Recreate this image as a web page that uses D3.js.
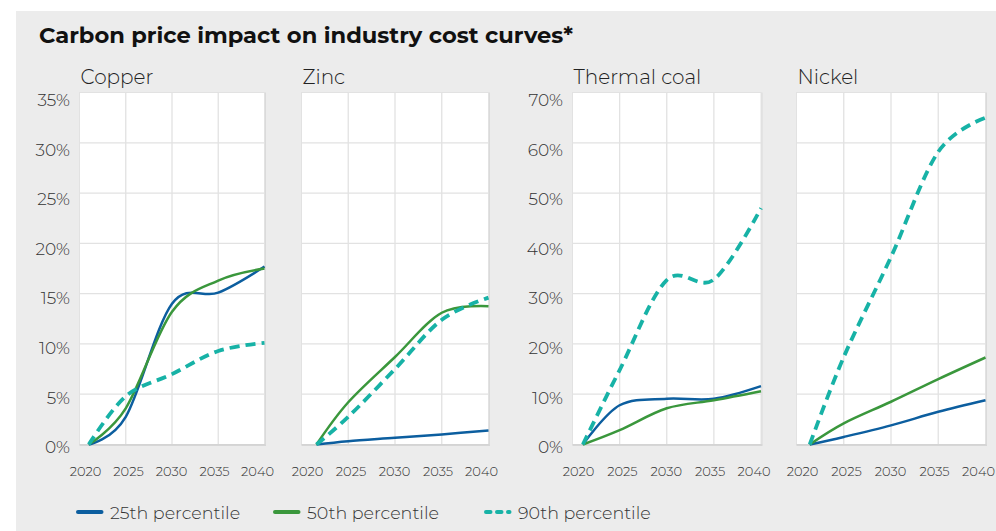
<!DOCTYPE html>
<html>
<head>
<meta charset="utf-8">
<script src="https://cdn.jsdelivr.net/npm/d3@7"></script>
<style>
  html, body { margin: 0; padding: 0; background: #fff; }
  svg { display: block; }
  text { font-family: Montserrat, "DejaVu Sans", sans-serif; }
</style>
</head>
<body>
<div id="chart"></div>
<script>
let width = 996
let height = 531

// data (% cost increase)
let panels = ["Copper", "Zinc", "Thermal coal", "Nickel"]
let start_years = [2021, 2021.6, 2021.1, 2021.4]
let point_years = [2025, 2030, 2035, 2040]
let y_max = [35, 35, 70, 70]
let y_step = [5, 5, 10, 10]
let show_y_labels = [true, false, true, false]
let tick_years = [2020, 2025, 2030, 2035, 2040]

let p25 = [
    [0, 2.75, 14.0, 15.1, 17.7],
    [0, 0.33, 0.66, 1.0, 1.4],
    [0, 7.8, 9.1, 9.1, 11.6],
    [0, 1.5, 3.8, 6.5, 8.8]
]
let p50 = [
    [0, 3.6, 13.2, 16.3, 17.5],
    [0, 4.2, 8.7, 13.1, 13.75],
    [0, 2.85, 7.2, 8.8, 10.6],
    [0, 4.2, 8.5, 13.0, 17.3]
]
let p90 = [
    [0, 4.8, 7.0, 9.3, 10.1],
    [0, 2.75, 7.5, 12.4, 14.6],
    [0, 14.8, 32.7, 32.8, 47.0],
    [0, 17.4, 37.3, 58.2, 65.0]
]

let series = [
    {name: "25th percentile", values: p25, color: "#0c5e9f", dash: null},
    {name: "50th percentile", values: p50, color: "#3a973c", dash: null},
    {name: "90th percentile", values: p90, color: "#17b2a6", dash: "10,6"}
]

// layout
let plot_left = [79.5, 301.5, 572.5, 796.5]
let plot_w = [185, 187, 188.5, 189]
let plot_top = 92.5
let plot_bottom = 444.5

let svg = d3.select("#chart").append("svg")
    .attr("width", width)
    .attr("height", height)

svg.append("rect")
    .attr("x", 16).attr("y", 11)
    .attr("width", width - 16).attr("height", height - 11)
    .attr("fill", "#ececec")

svg.append("text")
    .attr("x", 39).attr("y", 43)
    .attr("font-size", 22.6)
    .attr("font-weight", "bold")
    .attr("fill", "#111")
    .text("Carbon price impact on industry cost curves*")

panels.forEach((name, p) => {
    let x0 = plot_left[p]
    let x1 = x0 + plot_w[p]
    let x = d3.scaleLinear().domain([2020, 2040]).range([x0, x1])
    let y = d3.scaleLinear().domain([0, y_max[p]]).range([plot_bottom, plot_top])
    let y_lab = d3.scaleLinear().domain([0, y_max[p]]).range([plot_bottom + 2.7, plot_top + 7.5])
    let x_lab = d3.scalePoint().domain(tick_years).range([x0 + 6, x1 - 7])
    let y_ticks = d3.range(0, y_max[p] + 0.001, y_step[p])

    let g = svg.append("g")

    g.append("text")
        .attr("x", x0 + 1).attr("y", 84)
        .attr("font-size", 20)
        .attr("font-weight", 300)
        .attr("fill", "#222")
        .text(name)

    g.append("rect")
        .attr("x", x0).attr("y", plot_top)
        .attr("width", x1 - x0).attr("height", plot_bottom - plot_top)
        .attr("fill", "#fff")
        .attr("stroke", "#e2e2e2")

    g.selectAll(".hgrid")
        .data(y_ticks.slice(1, -1))
        .enter()
        .append("line")
        .attr("x1", x0).attr("x2", x1)
        .attr("y1", d => y(d)).attr("y2", d => y(d))
        .attr("stroke", "#e2e2e2")
        .attr("stroke-width", 1.3)

    g.selectAll(".vgrid")
        .data(tick_years.slice(1, -1))
        .enter()
        .append("line")
        .attr("x1", d => x(d)).attr("x2", d => x(d))
        .attr("y1", plot_top).attr("y2", plot_bottom)
        .attr("stroke", "#e2e2e2")
        .attr("stroke-width", 1.3)

    // bottom axis line + faint right shadow
    g.append("line")
        .attr("x1", x0).attr("x2", x1 + 1.5)
        .attr("y1", plot_bottom + 0.5).attr("y2", plot_bottom + 0.5)
        .attr("stroke", "#cfcfcf").attr("stroke-width", 1.5)
    g.append("line")
        .attr("x1", x1 + 1).attr("x2", x1 + 1)
        .attr("y1", plot_top).attr("y2", plot_bottom)
        .attr("stroke", "#dadada").attr("stroke-width", 1)

    if (show_y_labels[p]) {
        g.selectAll(".ylab")
            .data(y_ticks)
            .enter()
            .append("text")
            .attr("x", x0 - 9.5)
            .attr("y", d => y_lab(d))
            .attr("text-anchor", "end")
            .attr("dominant-baseline", "central")
            .attr("font-size", 17)
            .attr("font-weight", 300)
            .attr("fill", "#333")
            .text(d => d + "%")
    }

    g.selectAll(".xlab")
        .data(tick_years)
        .enter()
        .append("text")
        .attr("x", d => x_lab(d))
        .attr("y", 476)
        .attr("text-anchor", "middle")
        .attr("font-size", 13)
        .attr("font-weight", 300)
        .attr("fill", "#333")
        .text(d => d)

    let years = [start_years[p]].concat(point_years)
    let line = d3.line()
        .x((d, i) => x(years[i]))
        .y(d => y(d))
        .curve(d3.curveCardinal.tension(0))

    series.forEach(s => {
        g.append("path")
            .datum(s.values[p])
            .attr("d", line)
            .attr("fill", "none")
            .attr("stroke", s.color)
            .attr("stroke-width", s.dash ? 3.8 : 2.5)
            .attr("stroke-dasharray", s.dash)
    })
})

// legend
let legend_x = [76, 273, 484]
let legend = svg.selectAll(".legend")
    .data(series)
    .enter()
    .append("g")
    .attr("transform", (d, i) => `translate(${legend_x[i]}, 512)`)

legend.append("line")
    .attr("x1", 2).attr("x2", 25.5)
    .attr("stroke", d => d.color)
    .attr("stroke-width", 4)
    .attr("stroke-linecap", "round")
    .attr("stroke-dasharray", d => d.dash ? "4.5,6.5" : null)

legend.append("text")
    .attr("x", 34)
    .attr("y", 0)
    .attr("dominant-baseline", "central")
    .attr("font-size", 17.5)
    .attr("font-weight", 300)
    .attr("fill", "#333")
    .text(d => d.name)
</script>
</body>
</html>
